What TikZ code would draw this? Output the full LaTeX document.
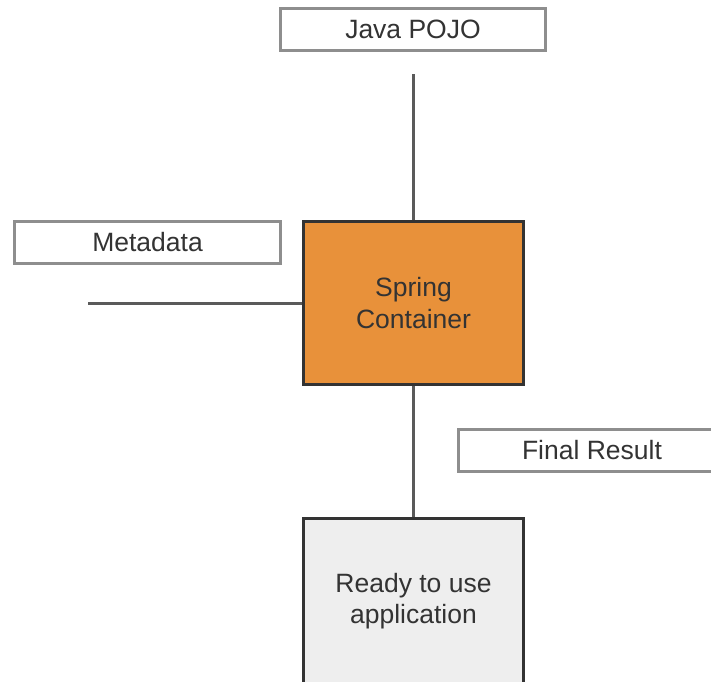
\documentclass[tikz,border=0pt]{standalone}
\usepackage{fontspec}
\setmainfont{Liberation Sans}
\definecolor{orangefill}{HTML}{E8913A}
\definecolor{darkborder}{HTML}{333333}
\definecolor{labelborder}{HTML}{8E8E8E}
\definecolor{linegrey}{HTML}{5A5A5A}
\definecolor{textgrey}{HTML}{333333}
\definecolor{readyfill}{HTML}{EEEEEE}
\tikzset{
  labelbox/.style={draw=labelborder, line width=2.6pt, fill=white, inner sep=0pt,
    text=textgrey, font=\fontsize{26.5}{31.5}\selectfont},
  mainbox/.style={draw=darkborder, line width=3pt, inner sep=0pt, align=center,
    text=textgrey, font=\fontsize{26.5}{31.5}\selectfont},
  conn/.style={draw=linegrey, line width=3pt}
}
\begin{document}
\begin{tikzpicture}[x=1pt,y=-1pt]
\clip (0,0) rectangle (711,681);
\fill[white] (0,0) rectangle (711,681);
\node[labelbox, minimum width=265pt, minimum height=42pt] (pojo) at (413,29.5) {Java POJO};
\node[labelbox, minimum width=266pt, minimum height=42pt] (meta) at (147.5,242.5) {Metadata};
\node[labelbox, minimum width=267pt, minimum height=42pt] (final) at (592,450.5) {Final Result};
\node[mainbox, fill=orangefill, minimum width=220pt, minimum height=163pt] (spring) at (413.5,303) {Spring\\Container};
\node[mainbox, fill=readyfill, minimum width=220pt, minimum height=166pt] (ready) at (413.5,601) {Ready to use\\application};
\coordinate (pojoend) at (413.5,74);
\coordinate (metaend) at (88,303);
\draw[conn] (pojoend) -- (spring.north);
\draw[conn] (metaend) -- (spring.west);
\draw[conn] (spring.south) -- (ready.north);
\end{tikzpicture}
\end{document}
